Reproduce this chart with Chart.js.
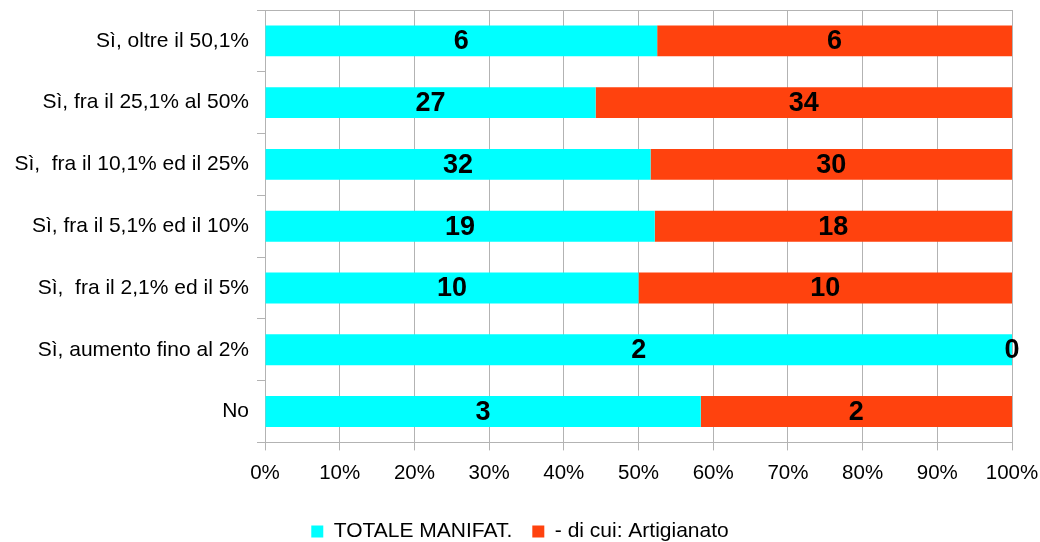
<!DOCTYPE html>
<html>
<head>
<meta charset="utf-8">
<script src="https://cdn.jsdelivr.net/npm/chart.js@4"></script>
<style>
html, body { margin: 0; padding: 0; background: #fff; }
#wrap { width: 1040px; height: 542px; }
</style>
</head>
<body>
<div id="wrap"><canvas id="chart"></canvas></div>
<script>
let categories = [
    "Sì, oltre il 50,1%",
    "Sì, fra il 25,1% al 50%",
    "Sì,  fra il 10,1% ed il 25%",
    "Sì, fra il 5,1% ed il 10%",
    "Sì,  fra il 2,1% ed il 5%",
    "Sì, aumento fino al 2%",
    "No"
]
let totaleManifat = [6.3, 27, 32, 19.2, 10, 2, 2.8]
let artigianato = [5.7, 34, 30, 17.6, 10, 0, 2.0]
let xTicks = [0, 10, 20, 30, 40, 50, 60, 70, 80, 90, 100]

let gridGray = "#b3b3b3"
let fontName = '"Liberation Sans", Arial, sans-serif'

function toPercent(a, b){
    return a.map((x, idx) => x / (x + b[idx]) * 100)
}

// draws the raw value in the middle of every segment
let segmentLabels = {
    id: "segmentLabels",
    afterDatasetsDraw(chart){
        let ctx = chart.ctx
        ctx.save()
        ctx.font = "bold 27px " + fontName
        ctx.fillStyle = "#000"
        ctx.textAlign = "center"
        ctx.textBaseline = "middle"
        chart.data.datasets.forEach((ds, di) => {
            chart.getDatasetMeta(di).data.forEach((bar, idx) => {
                let p = bar.getProps(["x", "y", "base"], true)
                ctx.fillText(String(Math.round(ds.rawValues[idx])), (p.x + p.base) / 2, p.y + 1)
            })
        })
        ctx.restore()
    }
}

new Chart(document.getElementById("chart"), {
    type: "bar",
    data: {
        labels: categories,
        datasets: [
            {
                label: "TOTALE MANIFAT.",
                data: toPercent(totaleManifat, artigianato),
                rawValues: totaleManifat,
                backgroundColor: "#00ffff"
            },
            {
                label: "- di cui: Artigianato",
                data: toPercent(artigianato, totaleManifat),
                rawValues: artigianato,
                backgroundColor: "#ff420e"
            }
        ]
    },
    options: {
        indexAxis: "y",
        responsive: true,
        maintainAspectRatio: false,
        animation: false,
        barPercentage: 0.5,
        categoryPercentage: 1.0,
        layout: {
            padding: {top: 10, left: 0, right: 0, bottom: -10}
        },
        scales: {
            x: {
                stacked: true,
                min: 0,
                max: 100,
                afterBuildTicks: (scale) => {
                    scale.ticks = xTicks.map(v => ({value: v}))
                },
                afterFit: (scale) => {
                    scale.paddingLeft = 0
                    scale.paddingRight = 28
                    scale.height += 4
                },
                ticks: {
                    callback: (v) => v + "%",
                    color: "#000",
                    padding: 11,
                    maxRotation: 0,
                    font: {family: fontName, size: 20.5}
                },
                grid: {
                    color: gridGray,
                    tickLength: 8
                },
                border: {color: gridGray}
            },
            y: {
                stacked: true,
                afterFit: (scale) => {
                    scale.width = 265
                    scale.paddingTop = 0
                    scale.paddingBottom = 0
                },
                ticks: {
                    color: "#000",
                    padding: 8,
                    font: {family: fontName, size: 21}
                },
                grid: {
                    offset: true,
                    tickLength: 8,
                    tickColor: gridGray,
                    color: (c) => c.index === 0 ? gridGray : "rgba(0,0,0,0)"
                },
                border: {color: gridGray}
            }
        },
        plugins: {
            tooltip: {enabled: false},
            legend: {
                position: "bottom",
                labels: {
                    boxWidth: 12,
                    boxHeight: 12,
                    padding: 20,
                    color: "#000",
                    font: {family: fontName, size: 21}
                }
            }
        }
    },
    plugins: [segmentLabels]
})
</script>
</body>
</html>
